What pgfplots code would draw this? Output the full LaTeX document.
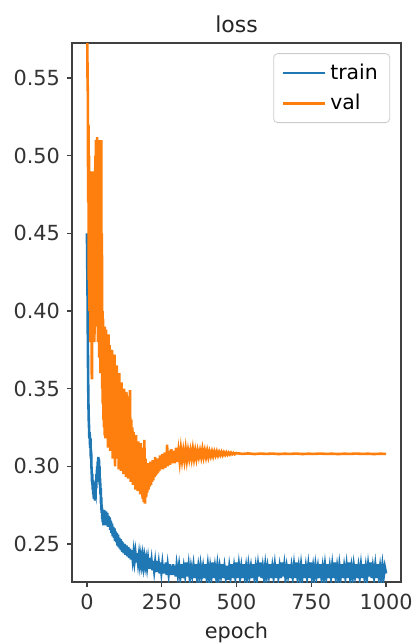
\documentclass[border=0pt]{standalone}
\usepackage{fontspec}
\setmainfont{DejaVu Sans}
\usepackage{pgfplots}
\pgfplotsset{compat=1.18}
\definecolor{tabblue}{HTML}{1F77B4}
\definecolor{taborange}{HTML}{FF7F0E}
\begin{document}
\begin{tikzpicture}
\useasboundingbox (-36pt,-31pt) rectangle (170pt,291pt);
\begin{axis}[
  at={(0,0)}, anchor=south west,
  scale only axis, width=164.5pt, height=269.5pt,
  xmin=-50, xmax=1050, ymin=0.2255, ymax=0.5726,
  xtick={0,250,500,750,1000},
  ytick={0.25,0.3,0.35,0.4,0.45,0.5,0.55},
  yticklabel style={/pgf/number format/.cd, fixed, fixed zerofill, precision=2},
  /pgf/number format/1000 sep={},
  /pgf/number format/assume math mode=true,
  tick label style={font=\fontsize{10.4}{11}\selectfont, text=black!80},
  tick align=outside, tick pos=left,
  major tick length=2.5pt,
  tick style={black!75, line width=0.6pt},
  axis line style={black!75, line width=0.7pt},
  title={loss},
  title style={at={(axis description cs:0.5,1)}, anchor=base, yshift=-0.5pt, font=\fontsize{11}{12}\selectfont, text=black!85},
  xlabel={epoch},
  xlabel style={at={(axis description cs:0.5,0)}, anchor=base, yshift=-28pt, font=\fontsize{10.4}{11}\selectfont, text=black!85},
  legend style={at={(0.967,0.981)}, anchor=north east, draw=black!20, rounded corners=2pt,
    fill=white, fill opacity=0.8, text opacity=1, font=\fontsize{10.2}{11}\selectfont,
    row sep=2pt, inner xsep=4pt, inner ysep=3pt},
  legend cell align=left,
  legend image code/.code={\draw[#1, line width=1.3pt] (0pt,0pt) -- (21pt,0pt);},
  every axis plot/.append style={line width=1.3pt},
]
\addplot[tabblue] coordinates {
(0,0.45)(1,0.43)(2,0.41)(3,0.38)(4,0.355)(5,0.34)(6,0.33)(7,0.325)(8,0.318)(9,0.322)
(10,0.315)(11,0.312)(12,0.318)(13,0.305)(14,0.31)(15,0.30)(16,0.296)(17,0.29)(18,0.295)(19,0.285)
(20,0.29)(21,0.282)(22,0.288)(23,0.279)(24,0.285)(25,0.28)(26,0.286)(27,0.278)(28,0.284)(29,0.283)
(30,0.29)(31,0.286)(32,0.295)(33,0.29)(34,0.30)(35,0.293)(36,0.303)(37,0.296)(38,0.306)(39,0.298)
(40,0.305)(41,0.294)(42,0.30)(43,0.288)(44,0.292)(45,0.282)(46,0.286)(47,0.276)(48,0.28)(49,0.27)
(50,0.274)(51,0.266)(52,0.27)(53,0.264)(54,0.268)(55,0.262)(56,0.27)(57,0.264)(58,0.272)(59,0.263)
(60,0.27)(62,0.262)(64,0.271)(66,0.263)(68,0.27)(70,0.261)(72,0.268)(74,0.262)(76,0.267)(78,0.259)
(80,0.265)(82,0.257)(84,0.263)(86,0.255)(88,0.261)(90,0.254)(92,0.26)(94,0.252)(96,0.258)(98,0.251)
(100,0.257)(102,0.249)(104,0.256)(106,0.248)(108,0.254)(110,0.247)(112,0.253)(114,0.246)(116,0.252)(118,0.245)
(120,0.251)(123,0.244)(126,0.25)(129,0.243)(132,0.249)(135,0.242)(138,0.248)(141,0.241)(144,0.247)(147,0.240)
(150,0.246)(153,0.240)(156,0.245)(159,0.239)(162,0.244)(165,0.238)(168,0.244)(171,0.238)(174,0.243)(177,0.237)
(180,0.242)(183,0.237)(186,0.242)(189,0.236)(192,0.241)(195,0.236)(198,0.240)(201,0.235)(204,0.240)(207,0.234)
(210,0.241)(213,0.234)(216,0.239)(219,0.233)(222,0.239)(225,0.233)(228,0.238)(231,0.232)(234,0.239)(237,0.232)
(240,0.237)(243,0.231)(246,0.238)(249,0.232)(252,0.237)(255,0.231)(258,0.237)(261,0.231)(264,0.238)(267,0.230)
(270,0.236)(273,0.231)(276,0.237)(279,0.230)(282,0.236)(285,0.230)(288,0.237)(291,0.230)(294,0.236)(297,0.229)
(300,0.236)(304,0.230)(308,0.236)(312,0.229)(316,0.237)(320,0.228)(324,0.235)(328,0.230)(332,0.238)(336,0.229)
(340,0.236)(344,0.228)(348,0.235)(352,0.230)(356,0.236)(360,0.228)(364,0.237)(368,0.229)(372,0.235)(376,0.228)
(380,0.236)(384,0.230)(388,0.235)(392,0.228)(396,0.237)(400,0.229)(404,0.236)(408,0.228)(412,0.235)(416,0.229)
(420,0.238)(424,0.228)(428,0.235)(432,0.229)(436,0.236)(440,0.228)(444,0.235)(448,0.230)(452,0.237)(456,0.228)
(460,0.235)(464,0.229)(468,0.236)(472,0.227)(476,0.235)(480,0.229)(484,0.237)(488,0.228)(492,0.235)(496,0.229)
(500,0.238)(504,0.228)(508,0.236)(512,0.229)(516,0.235)(520,0.228)(524,0.237)(528,0.229)(532,0.235)(536,0.228)
(540,0.236)(544,0.230)(548,0.235)(552,0.228)(556,0.237)(560,0.229)(564,0.235)(568,0.228)(572,0.236)(576,0.229)
(580,0.238)(584,0.228)(588,0.235)(592,0.229)(596,0.236)(600,0.228)(604,0.235)(608,0.230)(612,0.237)(616,0.228)
(620,0.235)(624,0.229)(628,0.236)(632,0.228)(636,0.237)(640,0.229)(644,0.235)(648,0.228)(652,0.238)(656,0.229)
(660,0.236)(664,0.228)(668,0.235)(672,0.230)(676,0.237)(680,0.228)(684,0.235)(688,0.229)(692,0.236)(696,0.228)
(700,0.238)(704,0.229)(708,0.235)(712,0.228)(716,0.236)(720,0.229)(724,0.237)(728,0.228)(732,0.235)(736,0.229)
(740,0.236)(744,0.228)(748,0.238)(752,0.229)(756,0.235)(760,0.228)(764,0.236)(768,0.230)(772,0.235)(776,0.228)
(780,0.237)(784,0.229)(788,0.235)(792,0.228)(796,0.236)(800,0.229)(804,0.237)(808,0.228)(812,0.235)(816,0.229)
(820,0.236)(824,0.228)(828,0.238)(832,0.229)(836,0.235)(840,0.228)(844,0.236)(848,0.229)(852,0.237)(856,0.228)
(860,0.235)(864,0.229)(868,0.236)(872,0.228)(876,0.238)(880,0.229)(884,0.235)(888,0.228)(892,0.236)(896,0.230)
(900,0.237)(904,0.228)(908,0.235)(912,0.229)(916,0.236)(920,0.228)(924,0.237)(928,0.229)(932,0.235)(936,0.228)
(940,0.236)(944,0.229)(948,0.238)(952,0.228)(956,0.235)(960,0.229)(964,0.236)(968,0.228)(972,0.237)(976,0.229)
(980,0.235)(984,0.228)(988,0.236)(992,0.229)(996,0.235)(1000,0.231)
};
\addlegendentry{train}
\addplot[taborange] coordinates {
(0,0.62)(1,0.58)(2,0.55)(3,0.54)(4,0.47)(5,0.52)(6,0.42)(7,0.50)(8,0.40)(9,0.49)
(10,0.41)(11,0.48)(12,0.38)(13,0.49)(14,0.40)(15,0.47)(16,0.36)(17,0.356)(18,0.45)(19,0.40)
(20,0.49)(21,0.39)(22,0.47)(23,0.41)(24,0.49)(25,0.38)(26,0.46)(27,0.42)(28,0.50)(29,0.40)
(30,0.51)(31,0.41)(32,0.49)(33,0.39)(34,0.512)(35,0.42)(36,0.50)(37,0.38)(38,0.51)(39,0.40)
(40,0.49)(41,0.37)(42,0.51)(43,0.40)(44,0.50)(45,0.36)(46,0.48)(47,0.39)(48,0.51)(49,0.37)
(50,0.45)(51,0.35)(52,0.40)(53,0.34)(54,0.395)(55,0.33)(56,0.39)(57,0.325)(58,0.385)(59,0.32)
(60,0.39)(62,0.318)(64,0.388)(66,0.32)(68,0.38)(70,0.312)(72,0.385)(74,0.33)(76,0.378)(78,0.31)
(80,0.37)(82,0.325)(84,0.375)(86,0.305)(88,0.365)(90,0.32)(92,0.372)(94,0.30)(96,0.36)(98,0.315)
(100,0.365)(102,0.305)(104,0.35)(106,0.298)(108,0.36)(110,0.31)(112,0.345)(114,0.297)(116,0.354)(118,0.305)
(120,0.34)(122,0.295)(124,0.35)(126,0.31)(128,0.338)(130,0.293)(132,0.348)(134,0.30)(136,0.335)(138,0.292)
(140,0.345)(142,0.30)(144,0.349)(146,0.29)(148,0.33)(150,0.295)(152,0.325)(154,0.288)(156,0.322)(158,0.295)
(160,0.318)(162,0.285)(164,0.32)(166,0.29)(168,0.312)(170,0.284)(172,0.316)(174,0.288)(176,0.31)(178,0.282)
(180,0.315)(182,0.285)(184,0.308)(186,0.279)(188,0.312)(190,0.277)(192,0.317)(194,0.276)(196,0.305)(198,0.28)
(200,0.30)(202,0.283)(204,0.302)(206,0.285)(208,0.299)(210,0.287)(212,0.303)(214,0.288)(216,0.300)(218,0.290)
(220,0.304)(222,0.291)(224,0.302)(226,0.293)(228,0.306)(230,0.294)(232,0.303)(234,0.295)(236,0.305)(238,0.296)
(240,0.304)(242,0.297)(244,0.307)(246,0.298)(248,0.305)(250,0.299)(252,0.308)(254,0.298)(256,0.306)(258,0.300)
(260,0.309)(262,0.299)(264,0.307)(266,0.300)(268,0.314)(270,0.300)(274,0.310)(278,0.301)(282,0.311)(286,0.302)
(290,0.310)(294,0.302)(298,0.312)(302,0.303)(306,0.310)(310,0.303)(314,0.311)(318,0.304)(322,0.310)(326,0.304)
(330,0.311)(334,0.304)(338,0.310)(342,0.305)(346,0.310)(350,0.305)(354,0.311)(358,0.305)(362,0.310)(366,0.305)
(370,0.310)(374,0.306)(378,0.310)(382,0.306)(386,0.311)(390,0.306)(394,0.310)(398,0.306)(402,0.310)(406,0.306)
(410,0.3095)(414,0.3065)(418,0.3095)(422,0.3065)(426,0.3095)(430,0.307)(434,0.3095)(438,0.307)(442,0.3092)(446,0.3072)
(450,0.3092)(454,0.3072)(458,0.309)(462,0.3074)(466,0.309)(470,0.3075)(474,0.3088)(478,0.3076)(482,0.3088)(486,0.3078)
(490,0.3086)(494,0.3078)(498,0.3085)(520,0.3080)(540,0.3083)(560,0.3079)(580,0.3082)(600,0.3080)(620,0.3082)(640,0.3079)
(660,0.3081)(680,0.3080)(700,0.3082)(720,0.3079)(740,0.3081)(760,0.3080)(780,0.3082)(800,0.3080)(820,0.3081)(840,0.3079)
(860,0.3081)(880,0.3080)(900,0.3082)(920,0.3080)(940,0.3081)(960,0.3079)(980,0.3081)(1000,0.3080)
};
\addlegendentry{val}
\end{axis}
\end{tikzpicture}
\end{document}
